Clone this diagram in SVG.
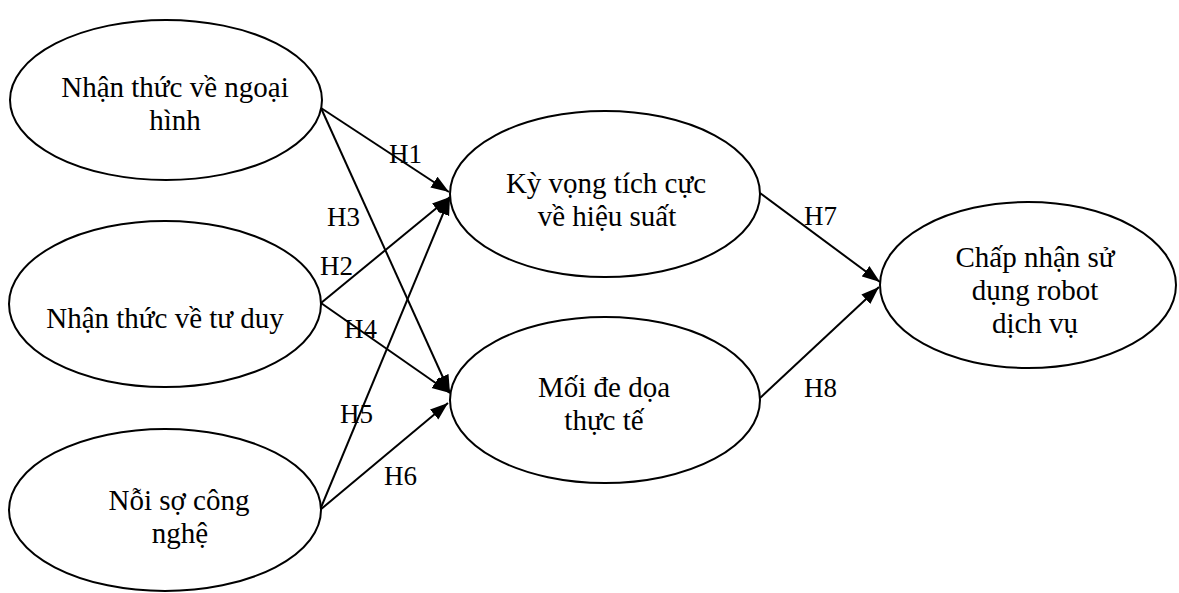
<svg xmlns="http://www.w3.org/2000/svg" width="1179" height="593" viewBox="0 0 1179 593">
  <style>
    .node ellipse { fill: #ffffff; stroke: #000000; stroke-width: 2; }
    .node text { font-size: 29px; fill: #000000; text-anchor: middle; }
    .edge { stroke: #000000; stroke-width: 2; fill: none; marker-end: url(#arrow); }
    .lbl { font-size: 27px; fill: #000000; }
  </style>
  <defs>
    <marker id="arrow" markerUnits="userSpaceOnUse" markerWidth="19" markerHeight="14" refX="18" refY="7" orient="auto">
      <path d="M0,0.5 L18,7 L0,13.5 Z" fill="#000000"/>
    </marker>
  </defs>
  <rect width="1179" height="593" fill="#ffffff"/>

  <g font-family="'Liberation Serif', 'DejaVu Serif', serif">
  <g id="connectors">
    <line class="edge" x1="321" y1="108" x2="449" y2="192"/>
    <line class="edge" x1="321" y1="303" x2="450" y2="197"/>
    <line class="edge" x1="321" y1="108" x2="450" y2="393"/>
    <line class="edge" x1="321" y1="303" x2="450" y2="393"/>
    <line class="edge" x1="320" y1="510" x2="450" y2="197"/>
    <line class="edge" x1="320" y1="510" x2="448" y2="403"/>
    <line class="edge" x1="760" y1="193" x2="880" y2="282"/>
    <line class="edge" x1="760" y1="398" x2="879" y2="287"/>
    <text class="lbl" x="389" y="163">H1</text>
    <text class="lbl" x="320" y="275">H2</text>
    <text class="lbl" x="327" y="226">H3</text>
    <text class="lbl" x="344" y="338">H4</text>
    <text class="lbl" x="340" y="423">H5</text>
    <text class="lbl" x="384" y="485">H6</text>
    <text class="lbl" x="804" y="225">H7</text>
    <text class="lbl" x="804" y="397">H8</text>
  </g>

  <g id="ngoai-hinh" class="node">
    <ellipse cx="166" cy="100" rx="156" ry="80"/>
    <text x="175" y="97">Nhận thức về ngoại</text>
    <text x="175" y="130">hình</text>
  </g>

  <g id="tu-duy" class="node">
    <ellipse cx="165" cy="304" rx="156" ry="83"/>
    <text x="165" y="328">Nhận thức về tư duy</text>
  </g>

  <g id="noi-so" class="node">
    <ellipse cx="165" cy="510" rx="156" ry="81"/>
    <text x="179" y="510">Nỗi sợ công</text>
    <text x="180" y="543">nghệ</text>
  </g>

  <g id="ky-vong" class="node">
    <ellipse cx="605" cy="194" rx="155" ry="83"/>
    <text x="606" y="193">Kỳ vọng tích cực</text>
    <text x="607" y="226">về hiệu suất</text>
  </g>

  <g id="moi-de-doa" class="node">
    <ellipse cx="605" cy="400" rx="155" ry="83"/>
    <text x="604" y="397">Mối đe dọa</text>
    <text x="604" y="430">thực tế</text>
  </g>

  <g id="chap-nhan" class="node">
    <ellipse cx="1028" cy="285" rx="148" ry="83"/>
    <text x="1035" y="267">Chấp nhận sử</text>
    <text x="1035" y="300">dụng robot</text>
    <text x="1035" y="333">dịch vụ</text>
  </g>
  </g>
</svg>
